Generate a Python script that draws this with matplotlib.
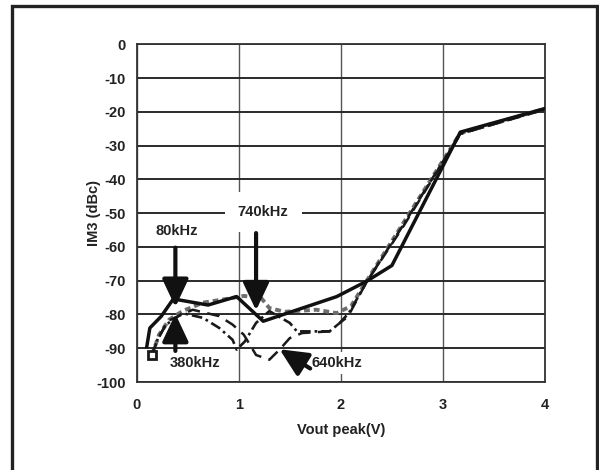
import numpy as np
import matplotlib
matplotlib.use("Agg")
import matplotlib.pyplot as plt
from matplotlib.patches import Rectangle

plt.rcParams['font.family'] = ['Liberation Sans', 'DejaVu Sans']
plt.rcParams['axes.unicode_minus'] = False

# IM3 vs output voltage
x_80k = [0.10, 0.13, 0.24, 0.36, 0.70, 0.98, 1.24, 1.96, 2.25, 2.50, 3.17, 4.0]
y_80k = [-89.5, -84.0, -80.6, -75.4, -77.2, -74.7, -82.0, -74.7, -70.2, -65.5, -26.0, -19.0]

x_380k = [0.15, 0.21, 0.29, 0.45, 0.65, 0.81, 0.94, 0.98, 1.06, 1.17, 1.30,
          1.50, 1.57, 1.89, 1.99, 2.08, 2.25, 2.60, 3.17, 4.0]
y_380k = [-92.0, -87.0, -83.0, -79.6, -81.0, -84.0, -87.5, -90.4, -88.0, -82.5, -79.0,
          -82.5, -85.0, -85.0, -82.5, -79.5, -70.5, -54.0, -26.5, -19.2]

x_640k = [0.15, 0.20, 0.30, 0.55, 0.81, 0.94, 1.05, 1.17, 1.30, 1.40, 1.50,
          1.62, 1.89, 1.99, 2.07, 2.25, 2.60, 3.17, 4.0]
y_640k = [-92.0, -88.0, -82.0, -78.6, -80.5, -83.0, -86.0, -92.0, -93.4, -90.4, -87.0,
          -85.5, -85.0, -82.5, -80.6, -70.5, -54.5, -26.5, -19.3]

x_740k = [0.15, 0.22, 0.32, 0.45, 0.65, 0.90, 1.05, 1.22, 1.30, 1.45, 1.76,
          1.96, 2.10, 2.25, 2.60, 3.17, 4.0]
y_740k = [-92.0, -86.0, -81.5, -79.0, -76.5, -75.3, -74.5, -75.1, -78.1, -79.2, -78.6,
          -79.6, -77.5, -70.2, -53.5, -26.3, -19.1]

# label text, text position, arrow tail, arrow tip
labels = ["80kHz", "740kHz", "380kHz", "640kHz"]
label_pos = [(0.39, -55.4), (1.24, -49.7), (0.57, -94.4), (1.96, -94.4)]
arrow_tail = [(0.38, -60.2), (1.17, -55.9), (0.38, -90.8), (1.70, -96.0)]
arrow_tip = [(0.38, -77.8), (1.17, -78.8), (0.38, -79.8), (1.40, -90.3)]
label_pad = [0.3, 0.9, 0.3, 0.3]

fig = plt.figure(figsize=(5.99, 4.70), dpi=100)
ax = fig.add_axes([0.228, 0.1872, 0.682, 0.7185])

ax.set_xlim(0, 4)
ax.set_ylim(-100, 0)
ax.set_xticks(np.arange(0, 5, 1))
ax.set_yticks(np.arange(-100, 1, 10))
ax.tick_params(length=0, labelsize=10.5)
ax.tick_params(axis='y', pad=8.0)
ax.tick_params(axis='x', pad=11.5)
for lab in ax.get_xticklabels() + ax.get_yticklabels():
    lab.set_fontweight('bold')
    lab.set_color('#222222')

ax.yaxis.grid(True, color='#2a2a2a', lw=1.4, zorder=0)
ax.xaxis.grid(True, color='#555555', lw=1.0, zorder=0)
ax.set_axisbelow(True)
for sp in ax.spines.values():
    sp.set_color('#333333')
    sp.set_linewidth(1.3)

ax.plot(x_740k, y_740k, color='#6e6e6e', lw=2.8, dashes=(1.5, 1.0), zorder=3)
ax.plot(x_640k, y_640k, color='#1a1a1a', lw=1.8, dashes=(5, 3), zorder=3)
ax.plot(x_380k, y_380k, color='#1a1a1a', lw=1.9, dashes=(4, 1.5, 1, 1.5), zorder=3,
        marker='s', markevery=[0], markersize=6, markerfacecolor='white',
        markeredgewidth=2)
ax.plot(x_80k, y_80k, color='#111111', lw=2.5, zorder=4)

for i in range(len(labels)):
    ax.text(label_pos[i][0], label_pos[i][1], labels[i], ha='center', va='center',
            fontsize=10.5, fontweight='bold', color='#222222', zorder=5,
            bbox=dict(boxstyle='square,pad=%s' % label_pad[i], fc='white', ec='none'))
    ax.annotate('', xy=arrow_tip[i], xytext=arrow_tail[i], zorder=6,
                arrowprops=dict(arrowstyle='-|>,head_length=0.85,head_width=0.4',
                                mutation_scale=20, lw=3, color='#111111',
                                shrinkA=0, shrinkB=0))

ax.set_xlabel("Vout peak(V)", fontsize=10.5, fontweight='bold', color='#222222')
ax.set_ylabel("IM3 (dBc)", fontsize=10.5, fontweight='bold', color='#222222')
ax.xaxis.set_label_coords(0.5, -0.121)
ax.yaxis.set_label_coords(-0.088, 0.5)

# outer frame, bottom edge falls outside the picture
fig.add_artist(Rectangle((11.5 / 599, -0.05), (596.5 - 11.5) / 599, 1.05 - 6.5 / 470,
                         transform=fig.transFigure, fill=False, lw=2.4,
                         ec='#222222'))

fig.savefig("out.png", dpi=100)
